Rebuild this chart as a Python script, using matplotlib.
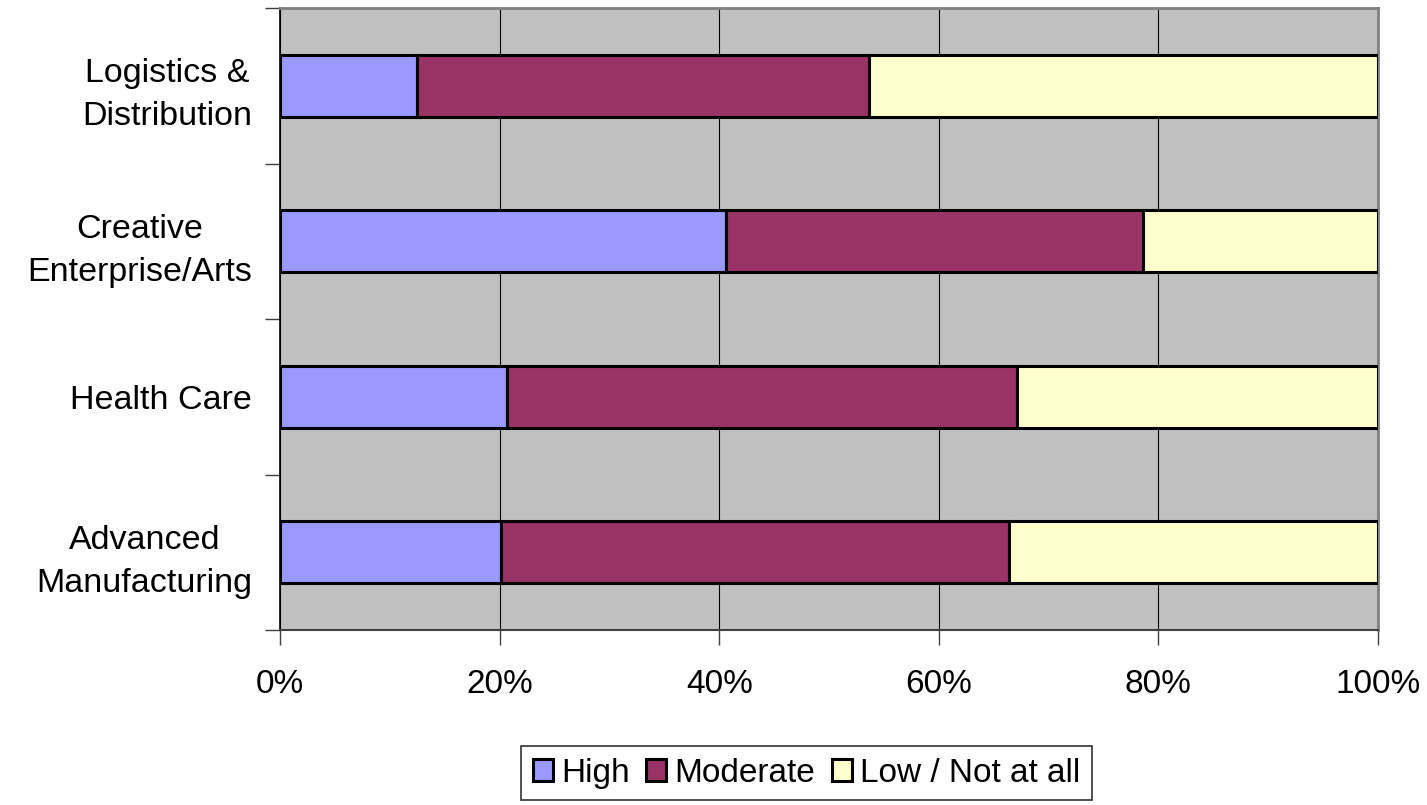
import matplotlib.pyplot as plt
from matplotlib.ticker import FuncFormatter

plt.rcParams["font.family"] = ["Liberation Sans", "DejaVu Sans"]

# Share of respondents by level, per industry cluster (percent)
clusters = ["Advanced\nManufacturing", "Health Care", "Creative\nEnterprise/Arts", "Logistics &\nDistribution"]
high = [20.1, 20.7, 40.6, 12.5]
moderate = [46.3, 46.4, 38.0, 41.1]
low = [33.6, 32.9, 21.4, 46.4]

series = [
    ("High", high, "#9999FF"),
    ("Moderate", moderate, "#993366"),
    ("Low / Not at all", low, "#FFFFCC"),
]

fig = plt.figure(figsize=(14.27, 8.05), dpi=100)
ax = fig.add_axes([280 / 1427, 1 - 630 / 805, 1098 / 1427, 622 / 805])
ax.set_facecolor("#C0C0C0")

ypos = list(range(len(clusters)))
left = [0.0] * len(clusters)
for name, vals, color in series:
    ax.barh(ypos, vals, left=left, height=0.4, color=color,
            edgecolor="black", linewidth=2.2, label=name, zorder=3)
    left = [a + b for a, b in zip(left, vals)]

ax.set_xlim(0, 100)
ax.set_ylim(-0.5, len(clusters) - 0.5)
ax.set_xticks([0, 20, 40, 60, 80, 100])
ax.xaxis.set_major_formatter(FuncFormatter(lambda v, _: f"{v:.0f}%"))
ax.grid(axis="x", color="black", linewidth=0.8, zorder=1)

# Category labels sit between tick marks, as in spreadsheet charts
ax.set_yticks([y - 0.5 for y in ypos] + [len(clusters) - 0.5])
ax.set_yticklabels([])
ax.set_yticks(ypos, minor=True)
ax.set_yticklabels(clusters, minor=True, fontsize=24.5, multialignment="center",
                   linespacing=1.5)
ax.tick_params(axis="y", which="minor", length=0, pad=20)
ax.tick_params(axis="y", which="major", length=11, width=1, color="#404040")
ax.tick_params(axis="x", length=11, width=1, color="#404040",
               labelsize=24, pad=17)

for side in ["top", "right"]:
    ax.spines[side].set_color("#808080")
    ax.spines[side].set_linewidth(2)
ax.spines["left"].set_color("black")
ax.spines["left"].set_linewidth(1.2)
ax.spines["bottom"].set_color("#404040")
ax.spines["bottom"].set_linewidth(1.5)

leg = fig.legend(loc="upper left", bbox_to_anchor=(521 / 1427, 1 - 746 / 805),
                 ncol=3, fontsize=24, frameon=True, fancybox=False,
                 handlelength=0.6, handleheight=0.6, handletextpad=0.25,
                 columnspacing=0.5, borderpad=0.35, borderaxespad=0)
leg.get_frame().set_edgecolor("black")
leg.get_frame().set_linewidth(1.2)

fig.savefig("out.png", dpi=100)
